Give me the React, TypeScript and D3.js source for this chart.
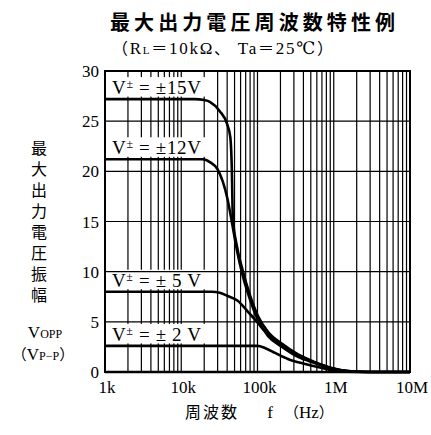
import React from "react";
import * as d3 from "d3";

// ---- data ----
const freq15 = [1e3, 1.5e4, 2.0e4, 2.4e4, 3.2e4, 4.0e4, 4.4e4, 4.6e4, 4.75e4, 5.35e4, 6.3e4, 8.0e4, 1.01e5, 1.37e5, 2.1e5, 3.4e5, 5.6e5, 9.4e5, 1.5e6, 3e6, 1e7];
const vpp15 = [27.2, 27.2, 27.1, 26.9, 26.0, 24.7, 23.4, 20.4, 15.4, 12.6, 10.3, 7.6, 5.6, 4.0, 2.8, 1.75, 1.0, 0.4, 0.1, 0, 0];

const freq12 = [1e3, 1.9e4, 2.4e4, 3.0e4, 3.5e4, 4.0e4, 4.6e4, 5.35e4, 6.3e4, 8.0e4, 1.01e5, 1.37e5, 2.1e5, 3.4e5, 5.6e5, 9.4e5, 1.5e6, 3e6, 1e7];
const vpp12 = [21.2, 21.2, 20.9, 20.2, 19.0, 17.4, 15.0, 12.2, 9.8, 7.2, 5.2, 3.6, 2.5, 1.5, 0.9, 0.35, 0.1, 0, 0];

const freq5 = [1e3, 2.5e4, 3.2e4, 4.0e4, 5.5e4, 7.5e4, 1.01e5, 1.14e5, 1.37e5, 2.1e5, 3.4e5, 5.6e5, 9.4e5, 1.5e6, 3e6, 1e7];
const vpp5 = [8.0, 8.0, 7.9, 7.6, 7.1, 6.0, 4.9, 4.4, 3.8, 2.6, 1.6, 0.95, 0.38, 0.1, 0, 0];

const freq2 = [1e3, 1.0e5, 1.25e5, 1.7e5, 2.5e5, 4.2e5, 7.0e5, 1.0e6, 1.5e6, 3e6, 1e7];
const vpp2 = [2.6, 2.6, 2.4, 1.9, 1.3, 0.8, 0.4, 0.15, 0.03, 0, 0];

const seriesFreqs = [freq15, freq12, freq5, freq2];
const seriesValues = [vpp15, vpp12, vpp5, vpp2];
const seriesSupplies = ["15V", "12V", " 5 V", " 2 V"];
const seriesFlat = [27.2, 21.2, 8.0, 2.6];

const xTickValues = [1e3, 1e4, 1e5, 1e6, 1e7];
const xTickLabels = ["1k", "10k", "100k", "1M", "10M"];
const yTickValues = [0, 5, 10, 15, 20, 25, 30];

const yTitle = "最大出力電圧振幅";

const SERIF = "'Liberation Serif', 'DejaVu Serif', serif";
const CJK = "'Noto Sans CJK JP', 'Noto Sans CJK SC', sans-serif";

export default function App() {
  const x = d3.scaleLog().domain([1e3, 1e7]).range([105, 410]);
  const y = d3.scaleLinear().domain([0, 30]).range([372, 71]);

  const line = d3
    .line<[number, number]>()
    .x((d) => x(d[0]))
    .y((d) => y(d[1]))
    .curve(d3.curveMonotoneX);

  const vGrid = x.ticks();
  const hGrid = yTickValues;

  return (
    <svg
      width={431}
      height={435}
      style={{ position: "absolute", left: 0, top: 0, background: "#fff" }}
    >
      <rect x={0} y={0} width={431} height={435} fill="#fff" />

      {/* Title */}
      <text
        x={110}
        y={30}
        fontFamily={CJK}
        fontWeight={700}
        fontSize={20}
        textLength={285}
        lengthAdjust="spacing"
        fill="#000"
      >
        最大出力電圧周波数特性例
      </text>
      <text x={112} y={54} fontFamily={SERIF} fontSize={17} fill="#000" textLength={221} lengthAdjust="spacing">
        <tspan fontFamily={CJK} fontSize={16}>（</tspan>
        <tspan>R</tspan>
        <tspan fontSize={11}>L</tspan>
        <tspan fontFamily={CJK} fontSize={16}>＝</tspan>
        <tspan>10kΩ</tspan>
        <tspan fontFamily={CJK} fontSize={16}>、</tspan>
        <tspan> Ta</tspan>
        <tspan fontFamily={CJK} fontSize={16}>＝</tspan>
        <tspan>25℃</tspan>
        <tspan fontFamily={CJK} fontSize={16}>）</tspan>
      </text>

      {/* vertical grid */}
      {vGrid.map((v, i) => (
        <line key={"v" + i} x1={x(v)} x2={x(v)} y1={y(30)} y2={y(0)} stroke="#000" strokeWidth={1.2} />
      ))}

      {/* label boxes */}
      {seriesFlat.map((fv, i) => {
        const base = y(fv) - 5;
        return (
          <rect key={"b" + i} x={x(1e3) + 1.5} y={base - 17} width={101} height={19.5} fill="#fff" />
        );
      })}

      {/* horizontal grid */}
      {hGrid.map((v, i) => (
        <line key={"h" + i} x1={x(1e3)} x2={x(1e7)} y1={y(v)} y2={y(v)} stroke="#000" strokeWidth={1.2} />
      ))}

      {/* labels */}
      {seriesFlat.map((fv, i) => {
        const base = y(fv) - 5;
        return (
          <text
            key={"l" + i}
            x={x(1e3) + 7}
            y={base}
            fontFamily={SERIF}
            fontSize={19}
            fill="#000"
            textLength={89}
            lengthAdjust="spacing"
          >
            <tspan>V</tspan>
            <tspan fontSize={12} dy={-6}>±</tspan>
            <tspan dy={6}> = ±{seriesSupplies[i]}</tspan>
          </text>
        );
      })}

      {/* frame */}
      <rect x={x(1e3)} y={y(30)} width={x(1e7) - x(1e3)} height={y(0) - y(30)} fill="none" stroke="#000" strokeWidth={2} />
      <line x1={x(1e3)} x2={x(1e7)} y1={y(0)} y2={y(0)} stroke="#000" strokeWidth={2.6} />

      {/* curves */}
      {seriesFreqs.map((fs, i) => {
        const pts = fs.map((f, j) => [f, seriesValues[i][j]] as [number, number]);
        return <path key={"c" + i} d={line(pts) || ""} fill="none" stroke="#000" strokeWidth={2.6} />;
      })}

      {/* y tick labels */}
      {yTickValues.map((v, i) => (
        <text key={"yt" + i} x={99} y={y(v) + 6} textAnchor="end" fontFamily={SERIF} fontSize={17} fill="#000">
          {v}
        </text>
      ))}

      {/* x tick labels */}
      {xTickValues.map((v, i) => (
        <text key={"xt" + i} x={x(v) + 2} y={393} textAnchor="middle" fontFamily={SERIF} fontSize={17} fill="#000">
          {xTickLabels[i]}
        </text>
      ))}

      {/* x title */}
      <text x={185} y={418} fontFamily={CJK} fontSize={16} letterSpacing={2} fill="#000">
        周波数
      </text>
      <text x={270} y={418} textAnchor="middle" fontFamily={SERIF} fontSize={17} fill="#000">
        f
      </text>
      <text x={284} y={418} fontFamily={SERIF} fontSize={17} fill="#000">
        <tspan fontFamily={CJK} fontSize={15}>（</tspan>
        <tspan>Hz</tspan>
        <tspan fontFamily={CJK} fontSize={15}>）</tspan>
      </text>

      {/* y title (vertical) */}
      <text
        x={39}
        y={140}
        fontFamily={CJK}
        fontSize={16}
        fill="#000"
        letterSpacing={5}
        style={{ writingMode: "vertical-rl", textOrientation: "upright" } as React.CSSProperties}
      >
        {yTitle}
      </text>
      <text x={45} y={338} textAnchor="middle" fontFamily={SERIF} fontSize={17} fill="#000">
        <tspan>V</tspan>
        <tspan fontSize={12}>OPP</tspan>
      </text>
      <text x={43} y={360} textAnchor="middle" fontFamily={SERIF} fontSize={17} fill="#000">
        <tspan fontFamily={CJK} fontSize={15}>（</tspan>
        <tspan>V</tspan>
        <tspan fontSize={12}>P−P</tspan>
        <tspan fontFamily={CJK} fontSize={15}>）</tspan>
      </text>
    </svg>
  );
}
